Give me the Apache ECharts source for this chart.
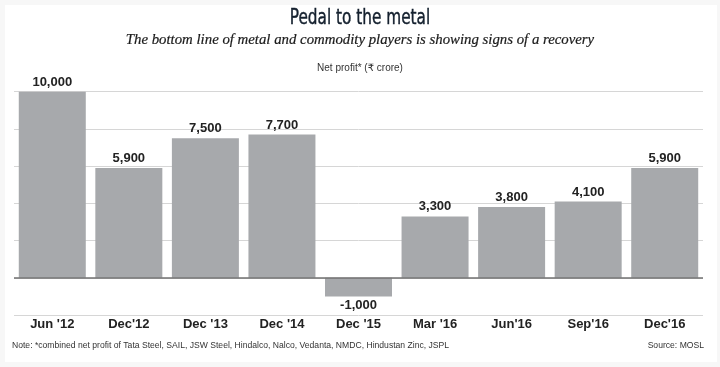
<!DOCTYPE html>
<html>
<head>
<meta charset="utf-8">
<script src="https://cdn.jsdelivr.net/npm/echarts@6/dist/echarts.min.js"></script>
<style>
html,body{margin:0;padding:0;background:#f7f7f7;}
#c{width:720px;height:367px;}
</style>
</head>
<body>
<div id="c"></div>
<script>
var categories = ["Jun '12", "Dec'12", "Dec '13", "Dec '14", "Dec '15", "Mar '16", "Jun'16", "Sep'16", "Dec'16"];
var values = [10000, 5900, 7500, 7700, -1000, 3300, 3800, 4100, 5900];
var yTicks = [-2000, 0, 2000, 4000, 6000, 8000, 10000];

var titleText = "Pedal to the metal";
var subtitleText = "The bottom line of metal and commodity players is showing signs of a recovery";
var unitText = "Net profit* (\u20b9 crore)";
var noteText = "Note: *combined net profit of Tata Steel, SAIL, JSW Steel, Hindalco, Nalco, Vedanta, NMDC, Hindustan Zinc, JSPL";
var sourceText = "Source: MOSL";

var chart = echarts.init(document.getElementById('c'), null, {renderer: 'canvas'});

var barData = values.map(function (v) {
  return {
    value: v,
    label: { position: v < 0 ? 'bottom' : 'top' }
  };
});

var option = {
  backgroundColor: '#f7f7f7',
  animation: false,
  graphic: [
    { type: 'rect', z: -10, shape: { x: 5, y: 5, width: 712, height: 357 }, style: { fill: '#ffffff' } },
    { type: 'text', x: 360, y: 8, scaleX: 0.81, style: { text: titleText, textAlign: 'center', font: '21px "Liberation Sans Narrow", "DejaVu Sans Condensed", sans-serif', fill: '#14202e', stroke: '#14202e', lineWidth: 0.4 } },
    { type: 'text', x: 360, y: 33, style: { text: subtitleText, textAlign: 'center', font: 'italic 14.8px "Liberation Serif", "DejaVu Serif", serif', fill: '#1a1a1a', stroke: '#1a1a1a', lineWidth: 0.2 } },
    { type: 'text', x: 360, y: 63, style: { text: unitText, textAlign: 'center', font: '10px "Liberation Sans", "DejaVu Sans", sans-serif', fill: '#333333' } },
    { type: 'text', x: 12, y: 341, style: { text: noteText, font: '8.6px "Liberation Sans", "DejaVu Sans", sans-serif', fill: '#333333' } },
    { type: 'text', x: 704, y: 341, style: { text: sourceText, textAlign: 'right', font: '8.6px "Liberation Sans", "DejaVu Sans", sans-serif', fill: '#333333' } }
  ],
  grid: { left: 14, right: 17, top: 91.7, bottom: 52, containLabel: false },
  xAxis: {
    type: 'category',
    data: categories,
    axisLine: { show: false, onZero: false },
    axisTick: { show: false },
    axisLabel: {
      margin: 3,
      verticalAlign: 'top',
      color: '#222222',
      fontSize: 13,
      fontWeight: 'bold',
      fontFamily: '"Liberation Sans", Arial, sans-serif'
    }
  },
  yAxis: {
    type: 'value',
    min: yTicks[0],
    max: yTicks[yTicks.length - 1],
    interval: 2000,
    axisLine: { show: false },
    axisTick: { show: false },
    axisLabel: { show: false },
    splitLine: { lineStyle: { color: '#d6d6d6', width: 1 } }
  },
  series: [{
    type: 'bar',
    data: barData,
    barWidth: 67,
    itemStyle: { color: '#a7a9ac' },
    label: {
      show: true,
      distance: 3,
      color: '#222222',
      fontSize: 13,
      fontWeight: 'bold',
      fontFamily: '"Liberation Sans", Arial, sans-serif',
      formatter: function (p) { return p.value.toLocaleString('en-US'); }
    },
    markLine: {
      silent: true,
      symbol: 'none',
      label: { show: false },
      lineStyle: { color: '#707070', width: 1.5, type: 'solid' },
      data: [{ yAxis: 0 }]
    }
  }]
};
chart.setOption(option);
</script>
</body>
</html>
